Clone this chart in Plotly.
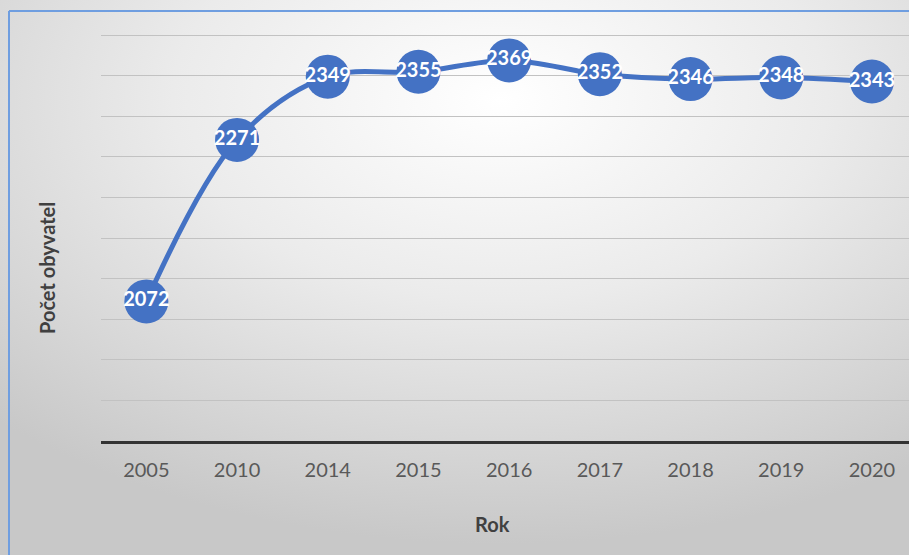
import plotly.graph_objects as go
import urllib.parse

years = ["2005", "2010", "2014", "2015", "2016", "2017", "2018", "2019", "2020"]
population = [2072, 2271, 2349, 2355, 2369, 2352, 2346, 2348, 2343]
y_title = "Počet obyvatel"
x_title = "Rok"

W, H = 909, 555
L, R, T, B = 101, 0, 32, 555 - 441
PW, PH = W - L - R, H - T - B
X_RANGE_MAX = -0.5 + PW / 90.7

svg = (
    "<svg xmlns='http://www.w3.org/2000/svg' width='909' height='555' "
    "viewBox='0 0 100 100' preserveAspectRatio='none'>"
    "<defs><radialGradient id='g' cx='0.55' cy='0.18' r='0.8'>"
    "<stop offset='0' stop-color='#ffffff'/>"
    "<stop offset='0.45' stop-color='#ebebeb'/>"
    "<stop offset='1' stop-color='#c8c8c8'/>"
    "</radialGradient></defs>"
    "<rect x='0' y='0' width='100' height='100' fill='url(#g)'/></svg>"
)
src = "data:image/svg+xml;charset=utf-8," + urllib.parse.quote(svg)

fig = go.Figure()
fig.add_trace(go.Scatter(
    x=years, y=population,
    mode="lines+markers+text",
    line=dict(color="#4472C4", width=5, shape="spline", smoothing=1.0),
    marker=dict(size=44, color="#4472C4"),
    text=[str(v) for v in population],
    textposition="middle center",
    textfont=dict(family="Lato", size=20, color="white", weight="bold"),
    cliponaxis=False,
    hoverinfo="skip",
))

def px(xp):
    return (xp - L) / PW

def py(yp):
    return (H - B - yp) / PH

fig.update_layout(
    width=W, height=H,
    margin=dict(l=L, r=R, t=T, b=B),
    paper_bgcolor="#e6e6e6",
    plot_bgcolor="rgba(0,0,0,0)",
    showlegend=False,
    images=[dict(
        source=src, xref="paper", yref="paper",
        x=px(0), y=py(0), sizex=W / PW, sizey=H / PH,
        xanchor="left", yanchor="top", sizing="stretch", layer="below",
    )],
    shapes=[
        dict(type="line", xref="paper", yref="paper",
             x0=px(9), x1=px(930), y0=py(11), y1=py(11),
             line=dict(color="#6f9ee0", width=2)),
        dict(type="line", xref="paper", yref="paper",
             x0=px(9), x1=px(9), y0=py(11), y1=py(580),
             line=dict(color="#6f9ee0", width=2)),
    ],
    annotations=[
        dict(text=y_title, xref="paper", yref="paper", x=px(47), y=py(268),
             xanchor="center", yanchor="middle",
             showarrow=False, textangle=-90,
             font=dict(family="Lato", size=20, color="#404040", weight="bold")),
        dict(text=x_title, xref="paper", yref="paper", x=px(492), y=py(524),
             xanchor="center", yanchor="middle",
             showarrow=False,
             font=dict(family="Lato", size=20, color="#404040", weight="bold")),
    ],
)
fig.update_xaxes(
    type="category", range=[-0.5, X_RANGE_MAX],
    showgrid=False, showline=True, linecolor="#333333", linewidth=3,
    ticks="", ticklabelstandoff=9,
    tickfont=dict(family="Lato", size=20, color="#595959"),
    fixedrange=True,
)
fig.update_yaxes(
    range=[1900, 2404], dtick=50, showticklabels=False,
    showgrid=True, gridcolor="#c2c2c2", gridwidth=1.3,
    zeroline=False, fixedrange=True,
)
fig.write_html(
    "out.html",
    config={"displayModeBar": False},
    post_script="document.body.style.margin='0';document.body.style.overflow='hidden';",
)
